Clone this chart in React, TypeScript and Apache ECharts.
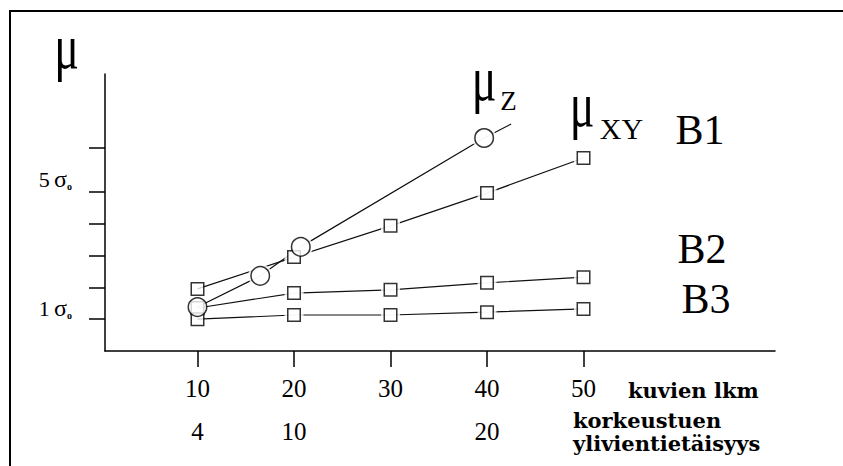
import React, { useEffect, useRef } from 'react';
import * as echarts from 'echarts';

// ---- data ----
const xTicks = [10, 20, 30, 40, 50];
const xTickLabels = ['10', '20', '30', '40', '50'];
const xTickLabels2 = ['4', '10', '', '20', ''];
const yTicks = [1, 2, 3, 4, 5, 6.38];
const yLabelValues = [1.35, 5.4];
const yLabelNums = ['1', '5'];

const bX = [10, 20, 30, 40, 50];
const b1 = [1.95, 2.95, 3.93, 4.96, 6.06];
const b2 = [1.35, 1.82, 1.92, 2.14, 2.32];
const b3 = [1.0, 1.13, 1.13, 1.22, 1.32];
const muZX = [10, 16.5, 20.7, 39.7, 42.5];
const muZY = [1.38, 2.36, 3.27, 6.69, 7.13];
const muZMarkerCount = 4;

const SERIF = 'Liberation Serif';
const WIDE_SERIF = 'DejaVu Serif';

const pairs = (xs: number[], ys: number[]) => xs.map((x, i) => [x, ys[i]]);

function txt(text: string, x: number, y: number, size: number, opts: any = {}) {
  return {
    type: 'text',
    x,
    y,
    scaleX: opts.scaleX ?? 1,
    silent: true,
    style: {
      text,
      x: 0,
      y: 0,
      fill: '#000',
      fontSize: size,
      fontFamily: opts.family ?? SERIF,
      fontWeight: opts.weight ?? 'normal',
      align: opts.align ?? 'center',
      textAlign: opts.align ?? 'center',
      verticalAlign: 'middle',
      textVerticalAlign: 'middle',
    },
  };
}

export default function App() {
  const ref = useRef<HTMLDivElement>(null);
  useEffect(() => {
    document.body.style.margin = '0';
    const chart = echarts.init(ref.current!, null, { renderer: 'svg' });
    const lineStyle = { color: '#111', width: 1.2 };
    const markerStyle = { color: '#fff', borderColor: '#000', borderWidth: 1.5 };
    const haloStyle = { color: '#fff', borderWidth: 0 };
    const squareSeries = [b1, b2, b3];

    const series: any[] = [];
    squareSeries.forEach((ys) => {
      series.push({
        type: 'line',
        data: pairs(bX, ys),
        symbol: 'none',
        lineStyle,
        z: 2,
        silent: true,
      });
    });
    series.push({
      type: 'line',
      data: pairs(muZX, muZY),
      symbol: 'none',
      lineStyle,
      z: 2,
      silent: true,
    });
    // white halos (gaps between line and marker)
    squareSeries.forEach((ys) => {
      series.push({
        type: 'scatter',
        data: pairs(bX, ys).slice(1),
        symbol: 'rect',
        symbolSize: 19,
        itemStyle: haloStyle,
        z: 3,
        silent: true,
      });
    });
    series.push({
      type: 'scatter',
      data: pairs(muZX, muZY).slice(1, muZMarkerCount),
      symbol: 'circle',
      symbolSize: 24,
      itemStyle: haloStyle,
      z: 3,
      silent: true,
    });
    // markers
    squareSeries.forEach((ys) => {
      series.push({
        type: 'scatter',
        data: pairs(bX, ys),
        symbol: 'rect',
        symbolSize: 12.5,
        itemStyle: markerStyle,
        z: 4,
        silent: true,
      });
    });
    series.push({
      type: 'scatter',
      data: pairs(muZX, muZY).slice(0, muZMarkerCount),
      symbol: 'circle',
      symbolSize: 18.5,
      itemStyle: markerStyle,
      z: 5,
      silent: true,
    });

    chart.setOption({
      animation: false,
      backgroundColor: '#fff',
      textStyle: { fontFamily: SERIF },
      grid: { left: 105, right: 68, top: 74, bottom: 115, containLabel: false },
      xAxis: {
        type: 'value',
        min: 0.415,
        max: 69.84,
        splitLine: { show: false },
        axisLine: { show: true, lineStyle: { color: '#000', width: 1.5 } },
        axisTick: {
          show: true,
          customValues: xTicks,
          length: 16,
          inside: false,
          lineStyle: { color: '#000', width: 1.5 },
        },
        axisLabel: {
          show: true,
          customValues: xTicks,
          margin: 16,
          fontFamily: SERIF,
          formatter: (v: number) => {
            const i = xTicks.findIndex((t) => Math.abs(t - v) < 1e-6);
            if (i < 0) return '';
            const second = xTickLabels2[i];
            return second ? `{a|${xTickLabels[i]}}\n{a|${second}}` : `{a|${xTickLabels[i]}}`;
          },
          rich: {
            a: { fontSize: 25, lineHeight: 43, fontFamily: SERIF, color: '#000' },
          },
        },
      },
      yAxis: {
        type: 'value',
        min: 0,
        max: 8.7,
        splitLine: { show: false },
        axisLine: { show: true, lineStyle: { color: '#000', width: 1.5 } },
        axisTick: {
          show: true,
          customValues: yTicks,
          length: 16,
          inside: false,
          lineStyle: { color: '#000', width: 1.5 },
        },
        axisLabel: {
          show: true,
          customValues: yLabelValues,
          margin: 33,
          fontFamily: SERIF,
          formatter: (v: number) => {
            const i = yLabelValues.findIndex((t) => Math.abs(t - v) < 1e-6);
            if (i < 0) return '';
            return `{n|${yLabelNums[i]}\u2009}{s|σ}{o|o}`;
          },
          rich: {
            n: { fontSize: 22, fontFamily: SERIF, color: '#000' },
            s: { fontSize: 24, fontFamily: SERIF, color: '#000' },
            o: { fontSize: 10, fontFamily: SERIF, fontWeight: 'bold', color: '#000', verticalAlign: 'bottom', padding: [8, 0, 0, 0] },
          },
        },
      },
      graphic: [
        {
          type: 'polyline',
          silent: true,
          shape: { points: [[10, 466], [10, 11], [843, 11]] },
          style: { stroke: '#000', lineWidth: 2, fill: null },
        },
        txt('μ', 66.5, 46.5, 64, { scaleX: 0.72 }),
        txt('μ', 484, 78.5, 64, { scaleX: 0.72 }),
        txt('Z', 508.5, 101, 27),
        txt('μ', 582, 104.5, 64, { scaleX: 0.72 }),
        txt('XY', 621.5, 128, 30),
        txt('B1', 700, 130, 42),
        txt('B2', 702, 249, 42),
        txt('B3', 706, 299, 42),
        txt('kuvien lkm', 628, 390, 21, { align: 'left', family: WIDE_SERIF, weight: 'bold' }),
        txt('korkeustuen', 573, 420, 21, { align: 'left', family: WIDE_SERIF, weight: 'bold' }),
        txt('ylivientietäisyys', 573, 443, 21, { align: 'left', family: WIDE_SERIF, weight: 'bold' }),
      ],
      series,
    });
    return () => chart.dispose();
  }, []);
  return <div ref={ref} style={{ width: 843, height: 466 }} />;
}
